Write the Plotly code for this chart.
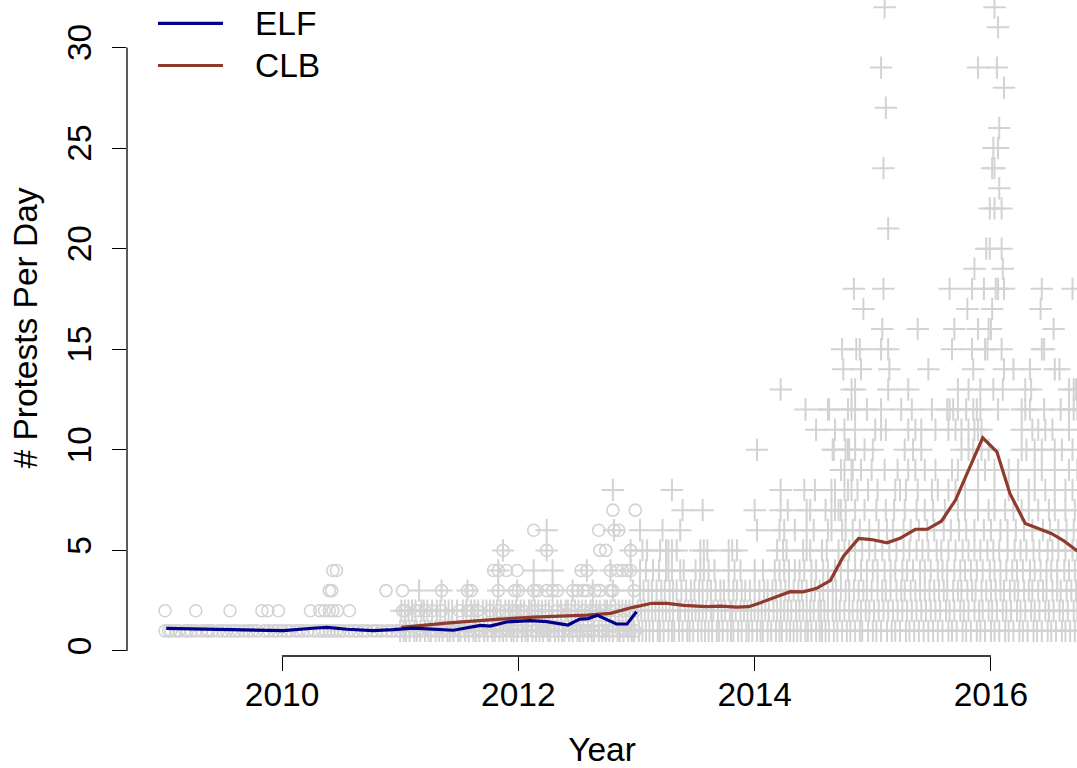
import plotly.graph_objects as go

# ---- daily protest counts (decimal year of each protest day, grouped by count) ----
# ELF: one list per daily count
elf_1 = [2009.01, 2009.04, 2009.06, 2009.10, 2009.13, 2009.18, 2009.20, 2009.23, 2009.27, 2009.32,
         2009.36, 2009.38, 2009.41, 2009.46, 2009.50, 2009.53, 2009.57, 2009.60, 2009.63, 2009.68,
         2009.72, 2009.75, 2009.79, 2009.85, 2009.89, 2009.93, 2009.96, 2010.00, 2010.04, 2010.07,
         2010.12, 2010.15, 2010.18, 2010.22, 2010.27, 2010.31, 2010.34, 2010.37, 2010.40, 2010.43,
         2010.46, 2010.49, 2010.52, 2010.57, 2010.61, 2010.64, 2010.68, 2010.72, 2010.77, 2010.80,
         2010.84, 2010.89, 2010.93, 2010.97, 2011.00, 2011.04, 2011.08, 2011.12, 2011.15, 2011.19,
         2011.24, 2011.27, 2011.30, 2011.35, 2011.39, 2011.42, 2011.46, 2011.51, 2011.54, 2011.58,
         2011.62, 2011.65, 2011.69, 2011.74, 2011.77, 2011.81, 2011.85, 2011.88, 2011.92, 2011.96,
         2012.00, 2012.03, 2012.07, 2012.12, 2012.15, 2012.19, 2012.23, 2012.27, 2012.30, 2012.34,
         2012.38, 2012.42, 2012.45, 2012.49, 2012.53, 2012.57, 2012.60, 2012.64, 2012.69, 2012.72,
         2012.76, 2012.80, 2012.84, 2012.87, 2012.91, 2012.95, 2012.99]
elf_2 = [2009.01, 2009.27, 2009.56, 2009.83, 2009.88, 2009.97, 2010.24, 2010.32, 2010.36, 2010.40,
         2010.43, 2010.47, 2010.57, 2011.02, 2011.04, 2011.13, 2011.16, 2011.21, 2011.27, 2011.35,
         2011.50, 2011.57, 2011.61, 2011.65, 2011.76, 2011.83, 2011.89, 2011.96, 2012.00, 2012.04,
         2012.12, 2012.16, 2012.24, 2012.33, 2012.38, 2012.44, 2012.49, 2012.55, 2012.61, 2012.66,
         2012.72, 2012.78, 2012.83, 2012.89, 2012.94, 2012.99]
elf_3 = [2010.40, 2010.42, 2010.88, 2011.02, 2011.35, 2011.57, 2011.60, 2011.83, 2011.97, 2012.00,
         2012.13, 2012.16, 2012.24, 2012.29, 2012.33, 2012.46, 2012.50, 2012.55, 2012.58, 2012.65,
         2012.69, 2012.78, 2012.80, 2012.98]
elf_4 = [2010.43, 2010.46, 2011.79, 2011.83, 2011.90, 2011.99, 2012.53, 2012.58, 2012.78, 2012.84,
         2012.88, 2012.92, 2012.95]
elf_5 = [2011.87, 2012.24, 2012.69, 2012.74, 2012.95]
elf_6 = [2012.13, 2012.68, 2012.81, 2012.85]
elf_7 = [2012.80, 2012.99]

# CLB: one list per daily count
clb_1 = [2011.00, 2011.03, 2011.05, 2011.08, 2011.12, 2011.14, 2011.17, 2011.21, 2011.24, 2011.26,
         2011.30, 2011.33, 2011.36, 2011.40, 2011.42, 2011.45, 2011.49, 2011.51, 2011.55, 2011.58,
         2011.62, 2011.64, 2011.67, 2011.71, 2011.74, 2011.78, 2011.80, 2011.84, 2011.87, 2011.90,
         2011.94, 2011.96, 2011.99, 2012.03, 2012.06, 2012.08, 2012.12, 2012.15, 2012.18, 2012.21,
         2012.25, 2012.27, 2012.31, 2012.34, 2012.37, 2012.39, 2012.43, 2012.46, 2012.50, 2012.52,
         2012.55, 2012.59, 2012.62, 2012.64, 2012.68, 2012.71, 2012.74, 2012.77, 2012.80, 2012.84,
         2012.86, 2012.89, 2012.93, 2012.96, 2012.98, 2013.02, 2013.05, 2013.08, 2013.11, 2013.14,
         2013.18, 2013.20, 2013.23, 2013.27, 2013.30, 2013.32, 2013.36, 2013.39, 2013.43, 2013.45,
         2013.48, 2013.52, 2013.55, 2013.58, 2013.61, 2013.64, 2013.68, 2013.70, 2013.73, 2013.77,
         2013.80, 2013.82, 2013.86, 2013.89, 2013.93, 2013.95, 2013.98, 2014.02, 2014.05, 2014.07,
         2014.11, 2014.14, 2014.18, 2014.21, 2014.23, 2014.27, 2014.30, 2014.33, 2014.36, 2014.39,
         2014.43, 2014.45, 2014.48, 2014.52, 2014.55, 2014.57, 2014.60, 2014.63, 2014.67, 2014.70,
         2014.74, 2014.78, 2014.81, 2014.85, 2014.89, 2014.91, 2014.96, 2015.00, 2015.03, 2015.07,
         2015.12, 2015.16, 2015.19, 2015.23, 2015.28, 2015.31, 2015.35, 2015.39, 2015.43, 2015.47,
         2015.51, 2015.55, 2015.59, 2015.64, 2015.67, 2015.71, 2015.76, 2015.79, 2015.83, 2015.88,
         2015.91, 2015.95, 2016.00, 2016.03, 2016.07, 2016.12, 2016.15, 2016.19, 2016.24, 2016.27,
         2016.31, 2016.36, 2016.39, 2016.43, 2016.48, 2016.51, 2016.55, 2016.60, 2016.63, 2016.67,
         2016.71, 2016.74]
clb_2 = [2011.01, 2011.04, 2011.07, 2011.10, 2011.13, 2011.18, 2011.20, 2011.23, 2011.27, 2011.31,
         2011.34, 2011.38, 2011.41, 2011.44, 2011.48, 2011.53, 2011.56, 2011.60, 2011.63, 2011.66,
         2011.70, 2011.73, 2011.76, 2011.79, 2011.82, 2011.85, 2011.89, 2011.92, 2011.95, 2011.98,
         2012.02, 2012.05, 2012.09, 2012.11, 2012.14, 2012.17, 2012.20, 2012.23, 2012.26, 2012.29,
         2012.33, 2012.36, 2012.40, 2012.42, 2012.45, 2012.48, 2012.51, 2012.54, 2012.57, 2012.61,
         2012.63, 2012.66, 2012.69, 2012.73, 2012.75, 2012.78, 2012.82, 2012.85, 2012.88, 2012.91,
         2012.94, 2012.97, 2013.01, 2013.04, 2013.07, 2013.10, 2013.13, 2013.16, 2013.19, 2013.22,
         2013.25, 2013.28, 2013.31, 2013.35, 2013.37, 2013.41, 2013.44, 2013.47, 2013.50, 2013.53,
         2013.56, 2013.59, 2013.63, 2013.65, 2013.69, 2013.72, 2013.75, 2013.79, 2013.81, 2013.84,
         2013.88, 2013.91, 2013.94, 2013.97, 2014.00, 2014.03, 2014.06, 2014.09, 2014.12, 2014.16,
         2014.19, 2014.22, 2014.25, 2014.28, 2014.31, 2014.35, 2014.38, 2014.41, 2014.44, 2014.47,
         2014.50, 2014.54, 2014.56, 2014.59, 2014.62, 2014.66, 2014.69, 2014.72, 2014.76, 2014.80,
         2014.83, 2014.87, 2014.90, 2014.94, 2014.97, 2015.01, 2015.05, 2015.09, 2015.13, 2015.17,
         2015.21, 2015.25, 2015.29, 2015.33, 2015.37, 2015.41, 2015.45, 2015.49, 2015.53, 2015.57,
         2015.62, 2015.65, 2015.69, 2015.74, 2015.77, 2015.81, 2015.86, 2015.90, 2015.93, 2015.98,
         2016.01, 2016.05, 2016.10, 2016.13, 2016.17, 2016.22, 2016.25, 2016.29, 2016.34, 2016.37,
         2016.41, 2016.46, 2016.49, 2016.53, 2016.58, 2016.61, 2016.65, 2016.70, 2016.73]
clb_3 = [2011.16, 2011.35, 2011.57, 2011.83, 2011.99, 2012.13, 2012.29, 2012.46, 2012.63, 2012.80,
         2012.97, 2013.03, 2013.06, 2013.10, 2013.13, 2013.17, 2013.21, 2013.24, 2013.28, 2013.31,
         2013.34, 2013.38, 2013.42, 2013.46, 2013.49, 2013.53, 2013.56, 2013.60, 2013.63, 2013.67,
         2013.71, 2013.74, 2013.78, 2013.82, 2013.85, 2013.89, 2013.92, 2013.96, 2014.00, 2014.04,
         2014.08, 2014.11, 2014.15, 2014.18, 2014.22, 2014.26, 2014.29, 2014.33, 2014.37, 2014.40,
         2014.44, 2014.48, 2014.51, 2014.55, 2014.58, 2014.62, 2014.66, 2014.69, 2014.73, 2014.77,
         2014.80, 2014.84, 2014.88, 2014.92, 2014.95, 2014.99, 2015.04, 2015.08, 2015.11, 2015.15,
         2015.20, 2015.24, 2015.27, 2015.32, 2015.36, 2015.40, 2015.44, 2015.48, 2015.52, 2015.56,
         2015.60, 2015.63, 2015.68, 2015.72, 2015.75, 2015.80, 2015.84, 2015.87, 2015.92, 2015.96,
         2016.00, 2016.04, 2016.08, 2016.11, 2016.16, 2016.20, 2016.23, 2016.28, 2016.32, 2016.35,
         2016.40, 2016.44, 2016.47, 2016.52, 2016.56, 2016.59, 2016.64, 2016.68, 2016.72]
clb_4 = [2011.83, 2012.13, 2012.29, 2012.58, 2012.78, 2012.95, 2013.03, 2013.08, 2013.14, 2013.19,
         2013.25, 2013.27, 2013.30, 2013.37, 2013.40, 2013.50, 2013.54, 2013.57, 2013.61, 2013.66,
         2013.78, 2013.83, 2013.88, 2014.00, 2014.07, 2014.17, 2014.21, 2014.25, 2014.29, 2014.34,
         2014.38, 2014.42, 2014.48, 2014.52, 2014.58, 2014.62, 2014.68, 2014.73, 2014.79, 2014.85,
         2014.90, 2014.95, 2015.00, 2015.04, 2015.10, 2015.15, 2015.19, 2015.25, 2015.29, 2015.34,
         2015.40, 2015.44, 2015.49, 2015.55, 2015.59, 2015.63, 2015.69, 2015.74, 2015.78, 2015.83,
         2015.88, 2015.93, 2015.99, 2016.03, 2016.08, 2016.13, 2016.18, 2016.22, 2016.27, 2016.33,
         2016.37, 2016.42, 2016.47, 2016.51, 2016.56, 2016.62, 2016.66, 2016.71]
clb_5 = [2011.87, 2012.24, 2012.95, 2013.05, 2013.09, 2013.20, 2013.25, 2013.27, 2013.30, 2013.34,
         2013.54, 2013.57, 2013.60, 2013.78, 2013.81, 2013.85, 2014.19, 2014.24, 2014.27, 2014.41,
         2014.44, 2014.47, 2014.57, 2014.61, 2014.71, 2014.76, 2014.80, 2014.85, 2014.91, 2014.97,
         2015.02, 2015.08, 2015.14, 2015.20, 2015.26, 2015.31, 2015.37, 2015.42, 2015.47, 2015.54,
         2015.58, 2015.64, 2015.70, 2015.76, 2015.81, 2015.86, 2015.91, 2015.97, 2016.02, 2016.07,
         2016.14, 2016.20, 2016.25, 2016.30, 2016.36, 2016.41, 2016.48, 2016.52, 2016.57, 2016.63,
         2016.69, 2016.73]
clb_6 = [2012.24, 2012.81, 2013.03, 2013.22, 2013.37, 2014.02, 2014.21, 2014.25, 2014.34, 2014.44,
         2014.50, 2014.62, 2014.65, 2014.74, 2014.77, 2014.83, 2014.89, 2014.97, 2015.05, 2015.12,
         2015.17, 2015.26, 2015.32, 2015.39, 2015.46, 2015.52, 2015.60, 2015.66, 2015.73, 2015.79,
         2015.86, 2015.94, 2016.00, 2016.08, 2016.14, 2016.21, 2016.28, 2016.35, 2016.44, 2016.50,
         2016.57, 2016.64, 2016.70]
clb_7 = [2013.39, 2013.56, 2014.00, 2014.22, 2014.28, 2014.44, 2014.47, 2014.60, 2014.65, 2014.68,
         2014.71, 2014.73, 2014.77, 2014.85, 2014.93, 2015.03, 2015.11, 2015.18, 2015.27, 2015.37,
         2015.44, 2015.51, 2015.61, 2015.72, 2015.78, 2015.89, 2015.98, 2016.03, 2016.12, 2016.19,
         2016.26, 2016.32, 2016.40, 2016.49, 2016.54, 2016.63, 2016.71]
clb_8 = [2012.80, 2013.30, 2014.22, 2014.42, 2014.51, 2014.65, 2014.68, 2014.76, 2014.79, 2014.82,
         2014.87, 2014.96, 2015.04, 2015.19, 2015.23, 2015.28, 2015.38, 2015.50, 2015.55, 2015.64,
         2015.70, 2015.78, 2015.89, 2016.03, 2016.15, 2016.23, 2016.32, 2016.37, 2016.46, 2016.54,
         2016.63, 2016.69]
clb_9 = [2014.73, 2014.76, 2014.82, 2014.83, 2014.90, 2014.99, 2015.10, 2015.21, 2015.30, 2015.36,
         2015.44, 2015.53, 2015.67, 2015.72, 2015.89, 2015.95, 2016.03, 2016.15, 2016.23, 2016.37,
         2016.43, 2016.54, 2016.66, 2016.73]
clb_10 = [2014.02, 2014.66, 2014.67, 2014.77, 2014.79, 2014.80, 2014.85, 2014.93, 2015.00, 2015.27,
          2015.34, 2015.41, 2015.75, 2015.81, 2015.85, 2015.92, 2015.98, 2016.26, 2016.30, 2016.37,
          2016.43, 2016.54, 2016.60, 2016.69]
clb_11 = [2014.52, 2014.68, 2014.76, 2014.85, 2015.02, 2015.07, 2015.11, 2015.30, 2015.36, 2015.41,
          2015.53, 2015.64, 2015.70, 2015.75, 2015.81, 2015.86, 2015.89, 2015.92, 2016.26, 2016.35,
          2016.40, 2016.46, 2016.52, 2016.66]
clb_12 = [2014.43, 2014.62, 2014.63, 2014.79, 2014.82, 2014.85, 2014.95, 2015.07, 2015.24, 2015.33,
          2015.50, 2015.63, 2015.65, 2015.68, 2015.72, 2015.79, 2015.85, 2015.88, 2015.91, 2016.06,
          2016.26, 2016.29, 2016.33, 2016.45, 2016.59, 2016.66, 2016.70, 2016.73]
clb_13 = [2014.22, 2014.82, 2014.85, 2015.13, 2015.30, 2015.72, 2015.81, 2015.91, 2016.02, 2016.10,
          2016.29, 2016.34, 2016.66, 2016.70, 2016.72]
clb_14 = [2014.75, 2014.90, 2015.14, 2015.47, 2015.85, 2016.11, 2016.19, 2016.33, 2016.54, 2016.58]
clb_15 = [2014.74, 2014.86, 2014.89, 2015.07, 2015.13, 2015.67, 2015.84, 2015.95, 2015.97, 2016.09,
          2016.43, 2016.45]
clb_16 = [2015.08, 2015.38, 2015.69, 2015.89, 2015.98, 2016.00, 2016.53]
clb_17 = [2014.92, 2015.80, 2016.01, 2016.42]
clb_18 = [2014.84, 2015.09, 2015.65, 2015.84, 2015.94, 2016.04, 2016.06, 2016.11, 2016.43, 2016.69]
clb_19 = [2015.86, 2016.10]
clb_20 = [2015.96, 2015.99, 2016.09]
clb_21 = [2015.13]
clb_22 = [2015.99, 2016.03, 2016.09]
clb_23 = [2016.07]
clb_24 = [2015.09, 2016.01, 2016.03]
clb_25 = [2016.02, 2016.06]
clb_26 = [2016.07]
clb_27 = [2015.11]
clb_28 = [2016.11]
clb_29 = [2015.07, 2015.89, 2016.05]
clb_31 = [2016.06]
clb_32 = [2015.10, 2016.03]

# ---- smoothed protest rates ----
elf_trend_x = [2009.02, 2009.37, 2009.73, 2010.01, 2010.26, 2010.38, 2010.55, 2010.77, 2010.94, 2011.11,
               2011.45, 2011.68, 2011.76, 2011.90, 2012.10, 2012.24, 2012.42, 2012.52, 2012.59, 2012.67,
               2012.83, 2012.92, 2013.00]
elf_trend_y = [1.12, 1.09, 1.04, 1.01, 1.13, 1.17, 1.08, 1.01, 1.06, 1.14,
               1.03, 1.27, 1.24, 1.44, 1.51, 1.46, 1.29, 1.58, 1.61, 1.77,
               1.34, 1.34, 1.95]
clb_trend_x = [2011.01, 2011.39, 2011.84, 2012.13, 2012.58, 2012.78, 2012.97, 2013.13, 2013.26, 2013.40,
               2013.59, 2013.71, 2013.85, 2013.95, 2014.05, 2014.19, 2014.30, 2014.41, 2014.52, 2014.64,
               2014.75, 2014.88, 2014.99, 2015.12, 2015.23, 2015.36, 2015.46, 2015.58, 2015.70, 2015.81,
               2015.93, 2016.05, 2016.16, 2016.29, 2016.40, 2016.51, 2016.61, 2016.73]
clb_trend_y = [1.17, 1.38, 1.58, 1.68, 1.78, 1.87, 2.17, 2.37, 2.37, 2.27,
               2.20, 2.23, 2.18, 2.20, 2.40, 2.70, 2.95, 2.94, 3.10, 3.50,
               4.70, 5.59, 5.54, 5.38, 5.60, 6.05, 6.05, 6.45, 7.50, 8.99,
               10.60, 9.90, 7.83, 6.34, 6.09, 5.84, 5.50, 4.97]

# ---- axes ----
year_ticks = [2010, 2012, 2014, 2016]
count_ticks = [0, 5, 10, 15, 20, 25, 30]
x_range = [2008.688, 2016.728]
y_range = [-0.25, 32.36]

series_names = ["ELF", "CLB"]
series_colors = ["#00008B", "#8E3A2C"]
GRAY = "#D3D3D3"
FONT = "Liberation Sans, Arial, sans-serif"
FS = 33.5

elf_rows = [(1, elf_1), (2, elf_2), (3, elf_3), (4, elf_4), (5, elf_5), (6, elf_6), (7, elf_7)]
clb_rows = [(1, clb_1), (2, clb_2), (3, clb_3), (4, clb_4), (5, clb_5), (6, clb_6), (7, clb_7),
            (8, clb_8), (9, clb_9), (10, clb_10), (11, clb_11), (12, clb_12), (13, clb_13),
            (14, clb_14), (15, clb_15), (16, clb_16), (17, clb_17), (18, clb_18), (19, clb_19),
            (20, clb_20), (21, clb_21), (22, clb_22), (23, clb_23), (24, clb_24), (25, clb_25),
            (26, clb_26), (27, clb_27), (28, clb_28), (29, clb_29), (31, clb_31), (32, clb_32)]


def flatten(rows):
    xs, ys = [], []
    for count, dates in rows:
        xs.extend(dates)
        ys.extend([count] * len(dates))
    return xs, ys


fig = go.Figure()

ex, ey = flatten(elf_rows)
fig.add_trace(go.Scatter(
    x=ex, y=ey, mode="markers", hoverinfo="skip",
    marker=dict(symbol="circle-open", size=12, color=GRAY, line=dict(color=GRAY, width=1.6)),
))
cx, cy = flatten(clb_rows)
fig.add_trace(go.Scatter(
    x=cx, y=cy, mode="markers", hoverinfo="skip",
    marker=dict(symbol="cross-thin-open", size=16, color=GRAY, line=dict(color=GRAY, width=2)),
))
fig.add_trace(go.Scatter(x=clb_trend_x, y=clb_trend_y, mode="lines",
                         line=dict(color=series_colors[1], width=3.2)))
fig.add_trace(go.Scatter(x=elf_trend_x, y=elf_trend_y, mode="lines",
                         line=dict(color=series_colors[0], width=3.2)))

axis_common = dict(
    showgrid=False, zeroline=False, showline=False,
    ticks="outside", ticklen=14, tickwidth=1.3, tickcolor="black",
    tickfont=dict(family=FONT, size=FS, color="black"),
)
fig.update_xaxes(range=x_range, tickvals=year_ticks, ticktext=[str(t) for t in year_ticks],
                 ticklabelstandoff=-5,
                 title=dict(text="Year", font=dict(family=FONT, size=FS, color="black"), standoff=28),
                 **axis_common)
fig.update_yaxes(range=y_range, tickvals=count_ticks, ticktext=[str(t) for t in count_ticks],
                 tickangle=-90, ticklabelstandoff=8,
                 title=dict(text="# Protests Per Day", font=dict(family=FONT, size=FS, color="black"),
                            standoff=12),
                 **axis_common)

# axis lines spanning first to last tick
shapes = [
    dict(type="line", xref="x", yref="paper", x0=min(year_ticks), x1=max(year_ticks), y0=0, y1=0,
         line=dict(color="black", width=1.3)),
    dict(type="line", xref="paper", yref="y", x0=0, x1=0, y0=min(count_ticks), y1=max(count_ticks),
         line=dict(color="black", width=1.3)),
]

# legend: line keys and labels in the top-left corner
W, H, L, B = 1077, 768, 127, 112
plot_w, plot_h = W - L, H - B
legend_rows_px = [23.3, 65.5]
annotations = []
for name, color, py in zip(series_names, series_colors, legend_rows_px):
    yp = (plot_h - py) / plot_h
    shapes.append(dict(type="line", xref="paper", yref="paper",
                       x0=(158 - L) / plot_w, x1=(223 - L) / plot_w, y0=yp, y1=yp,
                       line=dict(color=color, width=3.2)))
    annotations.append(dict(text=name, xref="paper", yref="paper", x=(253 - L) / plot_w, y=yp,
                            xanchor="left", yanchor="middle", showarrow=False,
                            font=dict(family=FONT, size=FS, color="black")))

fig.update_layout(
    width=W, height=H,
    margin=dict(l=L, r=0, t=0, b=B, autoexpand=False),
    plot_bgcolor="white", paper_bgcolor="white",
    showlegend=False,
    shapes=shapes, annotations=annotations,
    font=dict(family=FONT, size=FS, color="black"),
)

fig.write_html("out.html")
